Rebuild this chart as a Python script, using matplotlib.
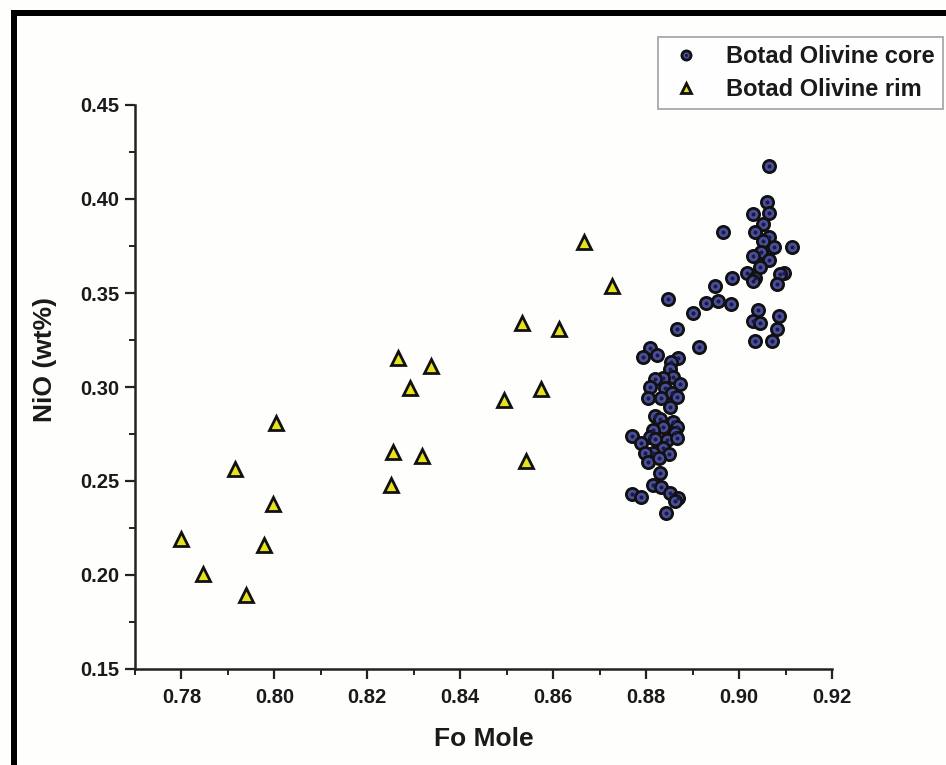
import matplotlib
matplotlib.use("Agg")
import matplotlib.pyplot as plt
from matplotlib.patches import Rectangle
from matplotlib.ticker import MultipleLocator
from matplotlib.lines import Line2D

plt.rcParams['font.family'] = ['Liberation Sans', 'DejaVu Sans']
plt.rcParams['font.weight'] = 'bold'

# Olivine core analyses: Fo (mole fraction) and NiO (wt%)
core_fo = [
    0.9064, 0.9061, 0.9064, 0.9029, 0.9052, 0.9035, 0.8966, 0.9064, 0.9052, 0.9076,
    0.9113, 0.9048, 0.9030, 0.9065, 0.9045, 0.9016, 0.9097, 0.9088, 0.9034, 0.9031,
    0.8985, 0.9082, 0.8949, 0.8929, 0.8955, 0.8982, 0.8900, 0.9040, 0.9087, 0.9031,
    0.9044, 0.9081, 0.9034, 0.9070, 0.8914,
    0.8848, 0.8867, 0.8808, 0.8793, 0.8823, 0.8869, 0.8853, 0.8851, 0.8858, 0.8837,
    0.8819, 0.8873, 0.8808, 0.8841, 0.8855, 0.8805, 0.8833, 0.8866, 0.8851, 0.8819,
    0.8830, 0.8858, 0.8837, 0.8866, 0.8815, 0.8862, 0.8769, 0.8808, 0.8844, 0.8866,
    0.8790, 0.8819, 0.8837, 0.8815, 0.8798, 0.8850, 0.8805, 0.8828, 0.8830, 0.8815,
    0.8833, 0.8851, 0.8869, 0.8862, 0.8769, 0.8788, 0.8843,
]
core_nio = [
    0.4176, 0.3986, 0.3924, 0.3919, 0.3867, 0.3826, 0.3826, 0.3797, 0.3778, 0.3747,
    0.3747, 0.3720, 0.3697, 0.3676, 0.3637, 0.3608, 0.3608, 0.3601, 0.3578, 0.3564,
    0.3578, 0.3547, 0.3538, 0.3449, 0.3458, 0.3440, 0.3395, 0.3410, 0.3380, 0.3353,
    0.3339, 0.3309, 0.3247, 0.3247, 0.3211,
    0.3467, 0.3307, 0.3206, 0.3161, 0.3170, 0.3153, 0.3132, 0.3094, 0.3055, 0.3047,
    0.3041, 0.3015, 0.3002, 0.2993, 0.2967, 0.2940, 0.2940, 0.2949, 0.2895, 0.2846,
    0.2828, 0.2816, 0.2789, 0.2789, 0.2771, 0.2754, 0.2740, 0.2733, 0.2718, 0.2727,
    0.2704, 0.2722, 0.2674, 0.2651, 0.2651, 0.2644, 0.2603, 0.2621, 0.2541, 0.2479,
    0.2470, 0.2435, 0.2408, 0.2395, 0.2431, 0.2417, 0.2328,
]

# Olivine rim analyses
rim_fo = [
    0.7799, 0.7846, 0.7915, 0.7939, 0.7978, 0.7997, 0.8003, 0.8251, 0.8255, 0.8266,
    0.8292, 0.8318, 0.8337, 0.8494, 0.8533, 0.8541, 0.8574, 0.8612, 0.8666, 0.8727,
]
rim_nio = [
    0.2192, 0.2005, 0.2564, 0.1894, 0.2160, 0.2378, 0.2809, 0.2479, 0.2654, 0.3155,
    0.2995, 0.2633, 0.3112, 0.2931, 0.3341, 0.2607, 0.2990, 0.3309, 0.3772, 0.3538,
]

x_ticks = [0.78, 0.80, 0.82, 0.84, 0.86, 0.88, 0.90, 0.92]
y_ticks = [0.15, 0.20, 0.25, 0.30, 0.35, 0.40, 0.45]
series_labels = ["Botad Olivine core", "Botad Olivine rim"]

W, H = 946, 765
fig = plt.figure(figsize=(W / 100, H / 100), dpi=100)
fig.patch.set_facecolor('#fefefc')

ax = fig.add_axes([135 / W, 1 - 669 / H, (832 - 135) / W, (669 - 105) / H])
ax.set_facecolor('none')

core_face = '#4b4f9a'
core_dot = '#181b45'
rim_face = '#e6e21c'
edge = '#111111'

ax.plot(core_fo, core_nio, linestyle='none', marker='o', ms=8.8, mfc=core_face,
        mec=edge, mew=2.0, zorder=3)
ax.plot(core_fo, core_nio, linestyle='none', marker='o', ms=2.9, mfc=core_dot,
        mec='none', zorder=4)
ax.plot(rim_fo, rim_nio, linestyle='none', marker='^', ms=10, mfc=rim_face,
        mec=edge, mew=2.0, zorder=3)

ax.set_xlim(0.77, 0.92)
ax.set_ylim(0.15, 0.45)
ax.set_xticks(x_ticks)
ax.set_yticks(y_ticks)
ax.set_xticklabels([f"{v:.2f}" for v in x_ticks])
ax.set_yticklabels([f"{v:.2f}" for v in y_ticks])
ax.xaxis.set_minor_locator(MultipleLocator(0.01))
ax.yaxis.set_minor_locator(MultipleLocator(0.025))

for side in ('top', 'right'):
    ax.spines[side].set_visible(False)
for side in ('left', 'bottom'):
    ax.spines[side].set_linewidth(1.8)
    ax.spines[side].set_color('#222222')

ax.tick_params(which='major', direction='out', length=7, width=1.6, color='#222222',
               labelsize=14.5, labelcolor='#1a1a1a')
ax.tick_params(axis='x', which='major', pad=7)
ax.tick_params(axis='y', which='major', pad=4)
ax.tick_params(which='minor', direction='out', length=4, width=1.4, color='#222222')
for lab in ax.get_xticklabels() + ax.get_yticklabels():
    lab.set_fontweight('bold')

ax.set_xlabel("Fo Mole", fontsize=19, fontweight='bold', color='#1a1a1a', labelpad=14)
ax.set_ylabel("NiO (wt%)", fontsize=19, fontweight='bold', color='#1a1a1a')
ax.yaxis.set_label_coords(-0.112, 0.548)

# Legend placed in the upper-right corner of the figure
h_core = (Line2D([], [], linestyle='none', marker='o', ms=8.8, mfc=core_face,
                 mec=edge, mew=2.0),
          Line2D([], [], linestyle='none', marker='o', ms=2.9, mfc=core_dot, mec='none'))
h_rim = Line2D([], [], linestyle='none', marker='^', ms=10, mfc=rim_face,
               mec=edge, mew=2.0)
leg = fig.legend([h_core, h_rim], series_labels, loc='upper right',
                 bbox_to_anchor=(943 / W, 1 - 37 / H), frameon=True, fancybox=False,
                 markerscale=0.75, handlelength=1.7, handletextpad=0.85,
                 borderpad=0.35, labelspacing=0.42, borderaxespad=0,
                 prop={'family': 'Liberation Sans', 'weight': 'bold', 'size': 17})
leg.get_frame().set_edgecolor('#8a8a8a')
leg.get_frame().set_linewidth(1.2)
leg.get_frame().set_facecolor('white')
for t in leg.get_texts():
    t.set_color('#1a1a1a')

# Thick black frame along the top and left edges
fig.add_artist(Rectangle((11 / W, 0), 6 / W, 1 - 10 / H, transform=fig.transFigure,
                         facecolor='black', edgecolor='none'))
fig.add_artist(Rectangle((11 / W, 1 - 16 / H), 1 - 11 / W, 6 / H, transform=fig.transFigure,
                         facecolor='black', edgecolor='none'))

fig.savefig("out.png", dpi=100, facecolor=fig.get_facecolor())
